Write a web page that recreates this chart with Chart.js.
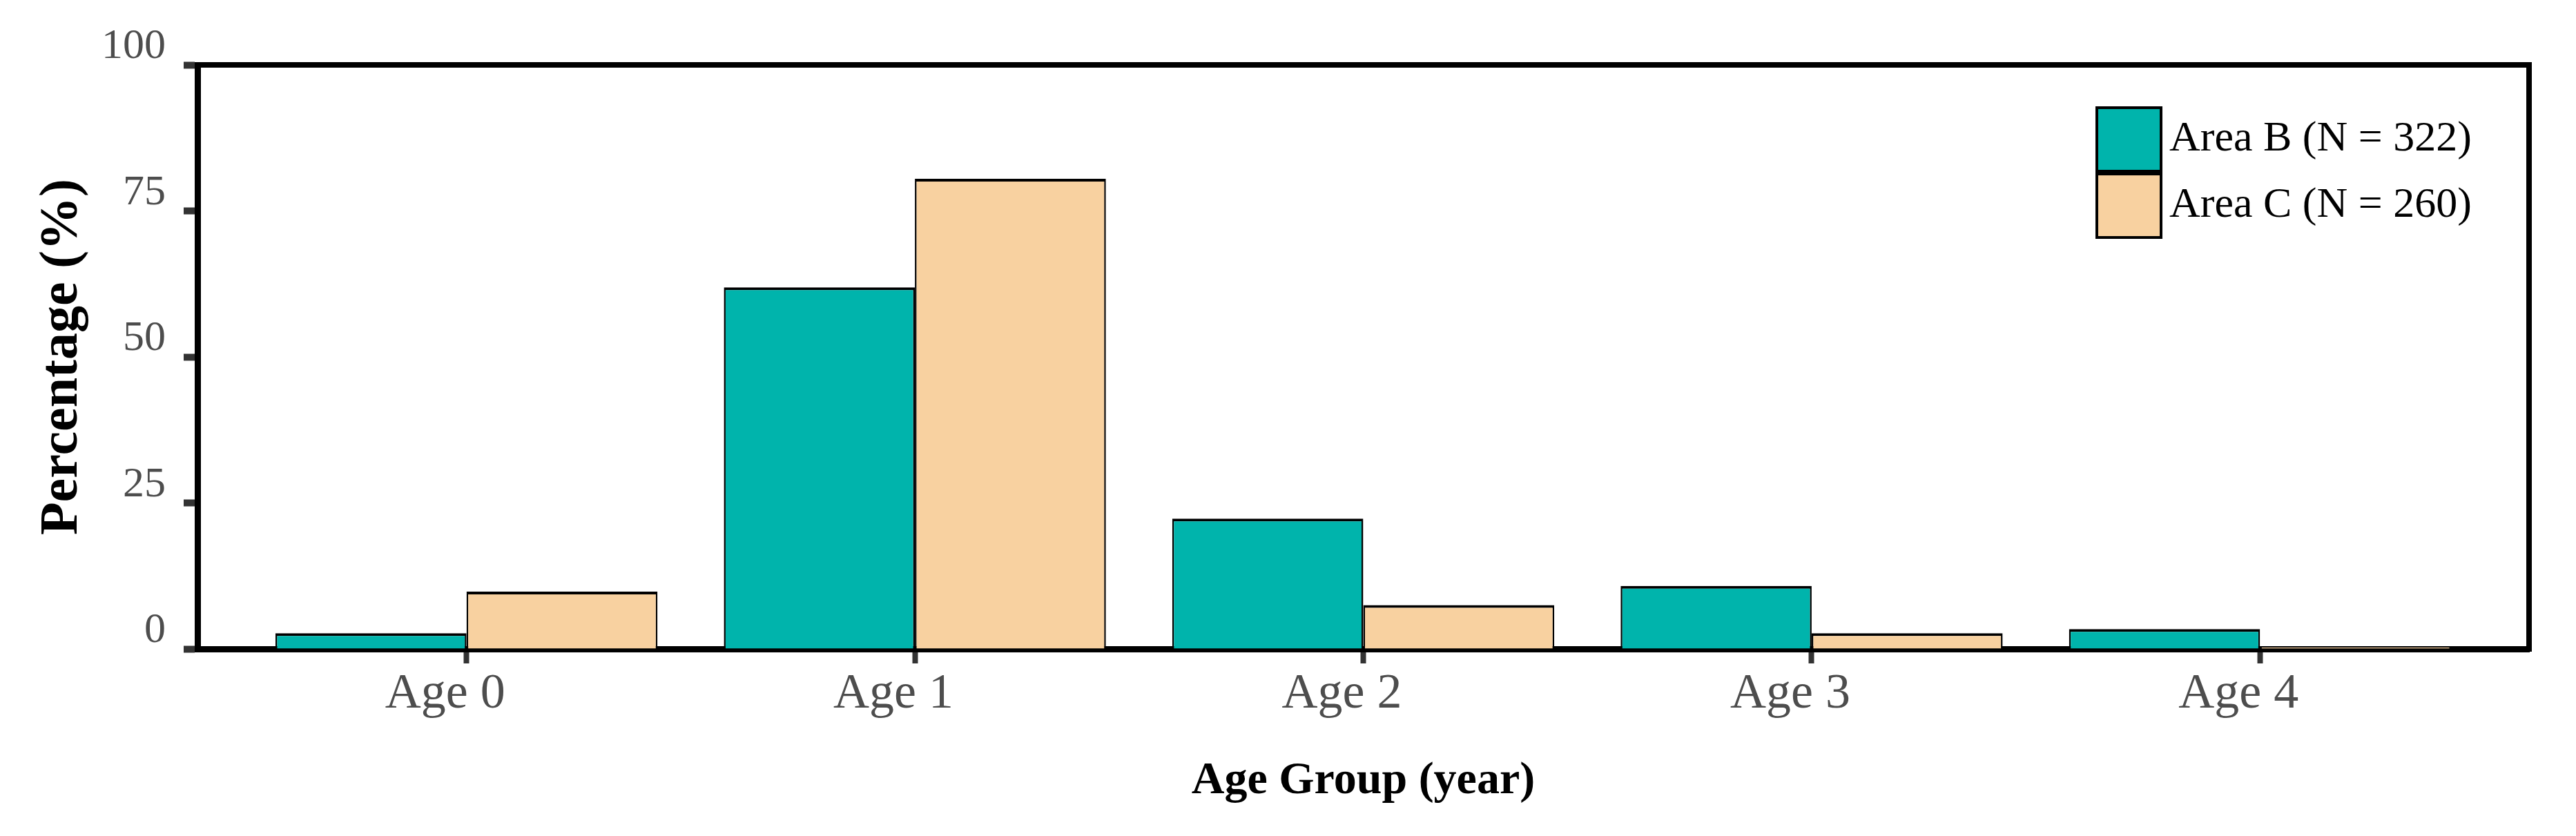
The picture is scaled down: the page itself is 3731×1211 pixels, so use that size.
<!DOCTYPE html>
<html>
<head>
<meta charset="utf-8">
<script src="https://cdn.jsdelivr.net/npm/chart.js@4.4.1/dist/chart.umd.min.js"></script>
<style>
    html, body { margin: 0; padding: 0; background: #ffffff; }
    #wrap { width: 3731px; height: 1211px; position: relative; }
</style>
</head>
<body>
<div id="wrap"><canvas id="ageChart"></canvas></div>
<script>
// Values (percent of fish in each age group)
const ageGroups = ['Age 0', 'Age 1', 'Age 2', 'Age 3', 'Age 4'];
const areaB = [2.7, 61.9, 22.3, 10.8, 3.4];
const areaC = [9.8, 80.5, 7.5, 2.7, 0.4];
const seriesNames = ['Area B (N = 322)', 'Area C (N = 260)'];
const yTicks = [0, 25, 50, 75, 100];

document.addEventListener('DOMContentLoaded', function () {
    const ctx = document.getElementById('ageChart').getContext('2d');

    const THEME = {
        teal: '#00B4AC',
        peach: '#F8D1A0',
        edge: '#000000',
        tickMark: '#333333',
        tickText: '#4d4d4d',
        font: "'Liberation Serif', 'Times New Roman', serif"
    };

    // linear x so the end gaps can be wider than half a category
    const toPoints = values => values.map((v, i) => ({ x: i, y: v }));
    const barEdge = { top: 4, left: 2.5, right: 2.5, bottom: 0 };

    // frame on top and right + legend inside the plot
    const framePlugin = {
        id: 'frameAndLegend',
        afterDraw(chart) {
            const { ctx, chartArea } = chart;
            ctx.save();
            ctx.strokeStyle = THEME.edge;
            ctx.lineWidth = 8;
            ctx.beginPath();
            ctx.moveTo(chartArea.left, chartArea.top);
            ctx.lineTo(chartArea.right, chartArea.top);
            ctx.lineTo(chartArea.right, chartArea.bottom + 4);
            ctx.stroke();

            const boxW = 97, boxH = 96;
            const x0 = chartArea.right - 628;
            let y0 = chartArea.top + 60;
            ctx.font = '62px ' + THEME.font;
            ctx.textBaseline = 'middle';
            ctx.textAlign = 'left';
            chart.data.datasets.forEach(ds => {
                ctx.fillStyle = ds.backgroundColor;
                ctx.fillRect(x0, y0, boxW, boxH);
                ctx.lineWidth = 4;
                ctx.strokeRect(x0 + 2, y0 + 2, boxW - 4, boxH - 4);
                ctx.fillStyle = '#000';
                ctx.fillText(ds.label, x0 + boxW + 10, y0 + boxH / 2);
                y0 += boxH;
            });
            ctx.restore();
        }
    };

    new Chart(ctx, {
        type: 'bar',
        data: {
            datasets: [{
                label: seriesNames[0],
                data: toPoints(areaB),
                backgroundColor: THEME.teal,
                borderColor: THEME.edge,
                borderWidth: barEdge,
                borderSkipped: false
            }, {
                label: seriesNames[1],
                data: toPoints(areaC),
                backgroundColor: THEME.peach,
                borderColor: THEME.edge,
                borderWidth: barEdge,
                borderSkipped: false
            }]
        },
        options: {
            responsive: true,
            maintainAspectRatio: false,
            devicePixelRatio: 1,
            animation: false,
            layout: { padding: { top: 94, right: 68, left: 0, bottom: 0 } },
            datasets: {
                bar: { categoryPercentage: 0.852, barPercentage: 1.0 }
            },
            scales: {
                x: {
                    type: 'linear',
                    min: -0.6,
                    max: 4.6,
                    offset: false,
                    z: 1,
                    afterFit: scale => { scale.height = 271; },
                    afterBuildTicks: axis => { axis.ticks = ageGroups.map((_, i) => ({ value: i })); },
                    border: { color: THEME.edge, width: 9 },
                    grid: {
                        offset: false,
                        drawOnChartArea: false,
                        tickLength: 21,
                        tickWidth: 8,
                        tickColor: THEME.tickMark
                    },
                    ticks: {
                        color: THEME.tickText,
                        font: { family: THEME.font, size: 72 },
                        padding: 2,
                        labelOffset: -31,
                        maxRotation: 0,
                        autoSkip: false,
                        callback: value => ageGroups[value] ?? ''
                    },
                    title: {
                        display: true,
                        text: 'Age Group (year)',
                        color: '#000',
                        font: { family: THEME.font, size: 66, weight: 'bold' },
                        padding: { top: 0, bottom: 39 }
                    }
                },
                y: {
                    min: 0,
                    max: 100,
                    z: 1,
                    afterFit: scale => { scale.width = 286; },
                    afterBuildTicks: axis => { axis.ticks = yTicks.map(v => ({ value: v })); },
                    border: { color: THEME.edge, width: 9 },
                    grid: {
                        drawOnChartArea: false,
                        tickLength: 20,
                        tickWidth: 10,
                        tickColor: THEME.tickMark
                    },
                    ticks: {
                        color: THEME.tickText,
                        font: { family: THEME.font, size: 62 },
                        padding: 26,
                        labelOffset: -26
                    },
                    title: {
                        display: true,
                        text: 'Percentage (%)',
                        color: '#000',
                        font: { family: THEME.font, size: 78, weight: 'bold' },
                        padding: { top: 44, bottom: 0 }
                    }
                }
            },
            plugins: {
                legend: { display: false },
                tooltip: { enabled: false }
            }
        },
        plugins: [framePlugin]
    });
});
</script>
</body>
</html>
